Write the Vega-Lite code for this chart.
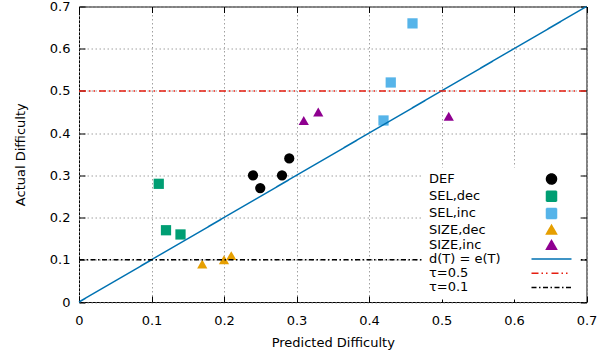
{
  "$schema": "https://vega.github.io/schema/vega-lite/v6.json",
  "width": 507.5,
  "height": 295.5,
  "autosize": {"type": "none"},
  "padding": {"left": 79, "top": 6.5, "right": 23, "bottom": 51},
  "background": "white",
  "config": {
    "view": {"stroke": "black", "strokeWidth": 1},
    "font": "DejaVu Sans",
    "axis": {
      "labelFontSize": 13,
      "labelColor": "black",
      "labelFont": "DejaVu Sans",
      "titleFont": "DejaVu Sans",
      "titleFontSize": 13,
      "titleFontWeight": "normal",
      "titleColor": "black",
      "tickColor": "black",
      "tickWidth": 1,
      "domain": false,
      "labelFlush": false,
      "gridColor": "#a0a0a0",
      "gridDash": [1.5, 2.5],
      "gridWidth": 1
    }
  },
  "datasets": {
    "pts": [
      {"x": 0.24, "y": 0.30, "series": "DEF"},
      {"x": 0.25, "y": 0.27, "series": "DEF"},
      {"x": 0.28, "y": 0.30, "series": "DEF"},
      {"x": 0.29, "y": 0.34, "series": "DEF"},
      {"x": 0.11, "y": 0.28, "series": "SEL,dec"},
      {"x": 0.12, "y": 0.17, "series": "SEL,dec"},
      {"x": 0.14, "y": 0.16, "series": "SEL,dec"},
      {"x": 0.42, "y": 0.43, "series": "SEL,inc"},
      {"x": 0.43, "y": 0.52, "series": "SEL,inc"},
      {"x": 0.46, "y": 0.66, "series": "SEL,inc"},
      {"x": 0.17, "y": 0.09, "series": "SIZE,dec"},
      {"x": 0.20, "y": 0.10, "series": "SIZE,dec"},
      {"x": 0.21, "y": 0.11, "series": "SIZE,dec"},
      {"x": 0.31, "y": 0.43, "series": "SIZE,inc"},
      {"x": 0.33, "y": 0.45, "series": "SIZE,inc"},
      {"x": 0.51, "y": 0.44, "series": "SIZE,inc"}
    ],
    "lines": [
      {"x": 0, "y": 0, "series": "d(T) = e(T)"},
      {"x": 0.7, "y": 0.7, "series": "d(T) = e(T)"},
      {"x": 0, "y": 0.5, "series": "τ=0.5"},
      {"x": 0.7, "y": 0.5, "series": "τ=0.5"},
      {"x": 0, "y": 0.1, "series": "τ=0.1"},
      {"x": 0.7, "y": 0.1, "series": "τ=0.1"}
    ]
  },
  "layer": [
    {
      "data": {"name": "pts"},
      "mark": {"type": "point", "filled": true, "size": 105, "opacity": 1},
      "encoding": {
        "x": {
          "field": "x", "type": "quantitative",
          "scale": {"domain": [0, 0.7], "nice": false, "zero": false},
          "axis": {"orient": "bottom", "title": "Predicted Difficulty", "values": [0, 0.1, 0.2, 0.3, 0.4, 0.5, 0.6, 0.7], "format": "~g", "grid": true, "tickSize": -6, "labelPadding": 18, "titlePadding": 9}
        },
        "y": {
          "field": "y", "type": "quantitative",
          "scale": {"domain": [0, 0.7], "nice": false, "zero": false},
          "axis": {"orient": "left", "title": "Actual Difficulty", "values": [0, 0.1, 0.2, 0.3, 0.4, 0.5, 0.6, 0.7], "format": "~g", "grid": true, "tickSize": -6, "labelPadding": 15, "titlePadding": 22}
        },
        "color": {
          "field": "series", "type": "nominal",
          "scale": {
            "domain": ["DEF", "SEL,dec", "SEL,inc", "SIZE,dec", "SIZE,inc", "d(T) = e(T)", "τ=0.5", "τ=0.1"],
            "range": ["#000000", "#009e73", "#56b4e9", "#e69f00", "#8f0090", "#0072b2", "#e51e10", "#000000"]
          },
          "legend": {
            "title": null,
            "orient": "none",
            "legendX": 343,
            "legendY": 161,
            "padding": 5,
            "fillColor": "white",
            "strokeColor": null,
            "labelFontSize": 13,
            "labelFont": "DejaVu Sans",
            "labelColor": "black",
            "symbolOffset": 118,
            "labelOffset": -129,
            "rowPadding": 0.2,
            "symbolSize": 100,
            "encode": {
              "symbols": {
                "update": {
                  "fill": {"scale": "color", "field": "value"},
                  "stroke": {"scale": "color", "field": "value"},
                  "strokeWidth": {"value": 1.5},
                  "strokeDash": {"scale": "strokeDash", "field": "value"},
                  "shape": {"scale": "shape", "field": "value"},
                  "opacity": {"value": 1}
                }
              }
            }
          }
        },
        "shape": {
          "field": "series", "type": "nominal",
          "scale": {
            "domain": ["DEF", "SEL,dec", "SEL,inc", "SIZE,dec", "SIZE,inc", "d(T) = e(T)", "τ=0.5", "τ=0.1"],
            "range": ["circle", "square", "square", "triangle-up", "triangle-up", "M-4,0H4", "M-4,0H4", "M-4,0H4"]
          }
        }
      }
    },
    {
      "data": {"name": "lines"},
      "mark": {"type": "line", "strokeWidth": 1.5},
      "encoding": {
        "x": {
          "field": "x", "type": "quantitative",
          "axis": {"orient": "top", "title": null, "labels": false, "grid": false, "values": [0, 0.1, 0.2, 0.3, 0.4, 0.5, 0.6, 0.7], "tickSize": -6}
        },
        "y": {
          "field": "y", "type": "quantitative",
          "axis": {"orient": "right", "title": null, "labels": false, "grid": false, "values": [0, 0.1, 0.2, 0.3, 0.4, 0.5, 0.6, 0.7], "tickSize": -6}
        },
        "color": {"field": "series", "type": "nominal"},
        "strokeDash": {
          "field": "series", "type": "nominal",
          "scale": {
            "domain": ["DEF", "SEL,dec", "SEL,inc", "SIZE,dec", "SIZE,inc", "d(T) = e(T)", "τ=0.5", "τ=0.1"],
            "range": [[1, 0], [1, 0], [1, 0], [1, 0], [1, 0], [1, 0], [7, 3, 1.5, 3, 1.5, 4], [5, 2.5, 1.5, 2.5]]
          }
        }
      }
    }
  ],
  "resolve": {"axis": {"x": "independent", "y": "independent"}}
}
